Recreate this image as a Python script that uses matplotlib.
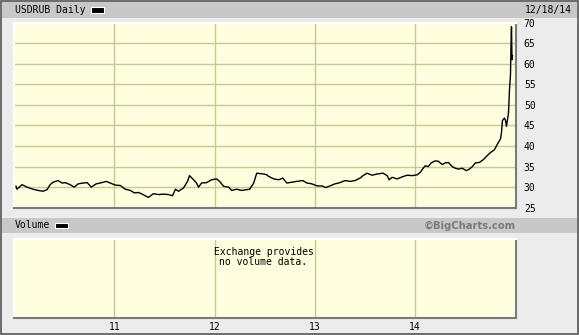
import matplotlib
matplotlib.use("Agg")
import matplotlib.pyplot as plt
from matplotlib.patches import Rectangle

# USD/RUB daily close (decimal year, rate)
years = [2010.02, 2010.03, 2010.08, 2010.13, 2010.19, 2010.24, 2010.29, 2010.33,
         2010.36, 2010.39, 2010.44, 2010.48, 2010.51, 2010.56, 2010.60, 2010.64,
         2010.69, 2010.73, 2010.77, 2010.82, 2010.86, 2010.92, 2010.96, 2011.01,
         2011.06, 2011.11, 2011.16, 2011.20, 2011.24, 2011.27, 2011.34, 2011.39,
         2011.44, 2011.49, 2011.54, 2011.58, 2011.61, 2011.64, 2011.69, 2011.73,
         2011.75, 2011.79, 2011.82, 2011.84, 2011.87, 2011.92, 2011.97, 2012.02,
         2012.05, 2012.09, 2012.14, 2012.17, 2012.22, 2012.27, 2012.32, 2012.35,
         2012.39, 2012.42, 2012.45, 2012.49, 2012.52, 2012.54, 2012.59, 2012.64,
         2012.68, 2012.72, 2012.77, 2012.82, 2012.88, 2012.92, 2012.97, 2013.02,
         2013.07, 2013.11, 2013.15, 2013.20, 2013.25, 2013.30, 2013.35, 2013.40,
         2013.45, 2013.48, 2013.52, 2013.57, 2013.62, 2013.68, 2013.72, 2013.74,
         2013.77, 2013.82, 2013.87, 2013.92, 2013.97, 2014.02, 2014.05, 2014.08,
         2014.10, 2014.13, 2014.16, 2014.20, 2014.23, 2014.27, 2014.30, 2014.33,
         2014.37, 2014.40, 2014.43, 2014.47, 2014.51, 2014.54, 2014.57, 2014.60,
         2014.64, 2014.68, 2014.71, 2014.75, 2014.79, 2014.82, 2014.85, 2014.86,
         2014.87, 2014.89, 2014.90, 2014.91, 2014.93, 2014.935, 2014.94, 2014.95,
         2014.955, 2014.96, 2014.965, 2014.97]
rates = [30.2, 29.5, 30.6, 30.0, 29.5, 29.2, 29.0, 29.4,
         30.6, 31.2, 31.6, 31.0, 31.1, 30.6, 30.0, 30.8,
         31.0, 31.1, 30.0, 30.8, 31.0, 31.4, 31.0, 30.5,
         30.4, 29.5, 29.2, 28.6, 28.7, 28.4, 27.5, 28.4,
         28.2, 28.3, 28.2, 27.9, 29.5, 29.0, 29.8, 31.4,
         32.8, 31.8, 31.0, 30.0, 31.0, 31.1, 31.8, 32.0,
         31.4, 30.2, 30.0, 29.2, 29.5, 29.2, 29.4, 29.5,
         31.0, 33.4, 33.3, 33.2, 33.0, 32.6, 32.0, 31.8,
         32.2, 31.0, 31.2, 31.4, 31.6, 31.0, 30.8, 30.3,
         30.3, 29.9, 30.3, 30.8, 31.1, 31.6, 31.4, 31.6,
         32.2, 32.8, 33.4, 32.9, 33.2, 33.4, 32.8, 31.8,
         32.4, 32.0, 32.5, 32.9, 32.8, 33.0, 33.6, 34.6,
         35.2, 35.0, 35.9, 36.4, 36.3, 35.5, 35.9, 36.0,
         35.0, 34.6, 34.4, 34.6, 34.0, 34.4, 35.0, 35.9,
         36.0, 36.7, 37.5, 38.4, 39.1, 40.5, 41.7, 43.2,
         46.2, 46.8, 46.2, 44.8, 48.0, 50.9, 53.7, 57.3,
         64.5, 69.0, 61.0, 62.0]

y_ticks = [25, 30, 35, 40, 45, 50, 55, 60, 65, 70]
year_ticks = [2011, 2012, 2013, 2014]
year_labels = ["11", "12", "13", "14"]

W, H = 579, 335
BG = "#ececec"
BAR = "#c8c8c8"
PANEL = "#fefedf"
GRID = "#c8c896"
MONO = "DejaVu Sans Mono"

fig = plt.figure(figsize=(W / 100, H / 100), dpi=100, facecolor=BG)


def box(x0, y0, x1, y1):
    # pixel box (top-left origin) -> figure fraction rect
    return [x0 / W, 1 - y1 / H, (x1 - x0) / W, (y1 - y0) / H]


def rect(x0, y0, x1, y1, **kw):
    r = Rectangle((x0 / W, 1 - y1 / H), (x1 - x0) / W, (y1 - y0) / H,
                  transform=fig.transFigure, **kw)
    fig.add_artist(r)
    return r


# outer frame and header bars
rect(0.5, 0.5, 577.5, 333.5, facecolor="none", edgecolor="#555555", lw=1.2)
rect(2, 2, 577, 17.5, facecolor=BAR, edgecolor="none")
rect(2, 218, 577, 232.5, facecolor=BAR, edgecolor="none")

fig.text(15 / W, 1 - 10 / H, "USDRUB Daily", family=MONO, fontsize=7,
         va="center", ha="left")
rect(91, 7.5, 104, 12.5, facecolor="black", edgecolor="white", lw=0.8)
fig.text(572 / W, 1 - 10 / H, "12/18/14", family=MONO, fontsize=7,
         va="center", ha="right")

fig.text(15 / W, 1 - 225.5 / H, "Volume", family=MONO, fontsize=7,
         va="center", ha="left")
rect(55, 223, 68, 228, facecolor="black", edgecolor="white", lw=0.8)
fig.text(516 / W, 1 - 225.5 / H, "\u00a9BigCharts.com", fontsize=7.2,
         weight="bold", color="#7a7a7a", va="center", ha="right")


def style_panel(ax):
    ax.set_facecolor(PANEL)
    for side in ["top", "left"]:
        ax.spines[side].set_color("white")
        ax.spines[side].set_linewidth(1.5)
    for side in ["bottom", "right"]:
        ax.spines[side].set_color("#7a7a7a")
        ax.spines[side].set_linewidth(1.5)
    ax.set_xlim(2010.0, 2015.0)
    for yr in year_ticks:
        ax.axvline(yr, color=GRID, lw=1.0, zorder=1)


# price panel
ax = fig.add_axes(box(14, 22.7, 515.5, 207.7))
style_panel(ax)
ax.set_ylim(25, 70)
for v in y_ticks[1:-1]:
    ax.axhline(v, color=GRID, lw=1.0, zorder=1)
ax.plot(years, rates, color="black", lw=1.0, zorder=3)
ax.set_xticks([])
ax.yaxis.tick_right()
ax.set_yticks(y_ticks)
ax.set_yticklabels([str(v) for v in y_ticks], family=MONO, fontsize=7)
ax.tick_params(axis="y", length=0, pad=6)

# volume panel
axv = fig.add_axes(box(14, 239.3, 515.5, 317.5))
style_panel(axv)
axv.set_ylim(0, 1)
axv.set_yticks([])
axv.set_xticks(year_ticks)
axv.set_xticklabels(year_labels, family=MONO, fontsize=7)
axv.tick_params(axis="x", length=0, pad=3)
axv.text((263.5 - 14) / (515.5 - 14), 1 - (257 - 239.3) / (317.5 - 239.3),
         "Exchange provides\nno volume data.", transform=axv.transAxes,
         family=MONO, fontsize=7, ha="center", va="center",
         multialignment="center", linespacing=1.05)

fig.savefig("out.png", dpi=100, facecolor=BG)
